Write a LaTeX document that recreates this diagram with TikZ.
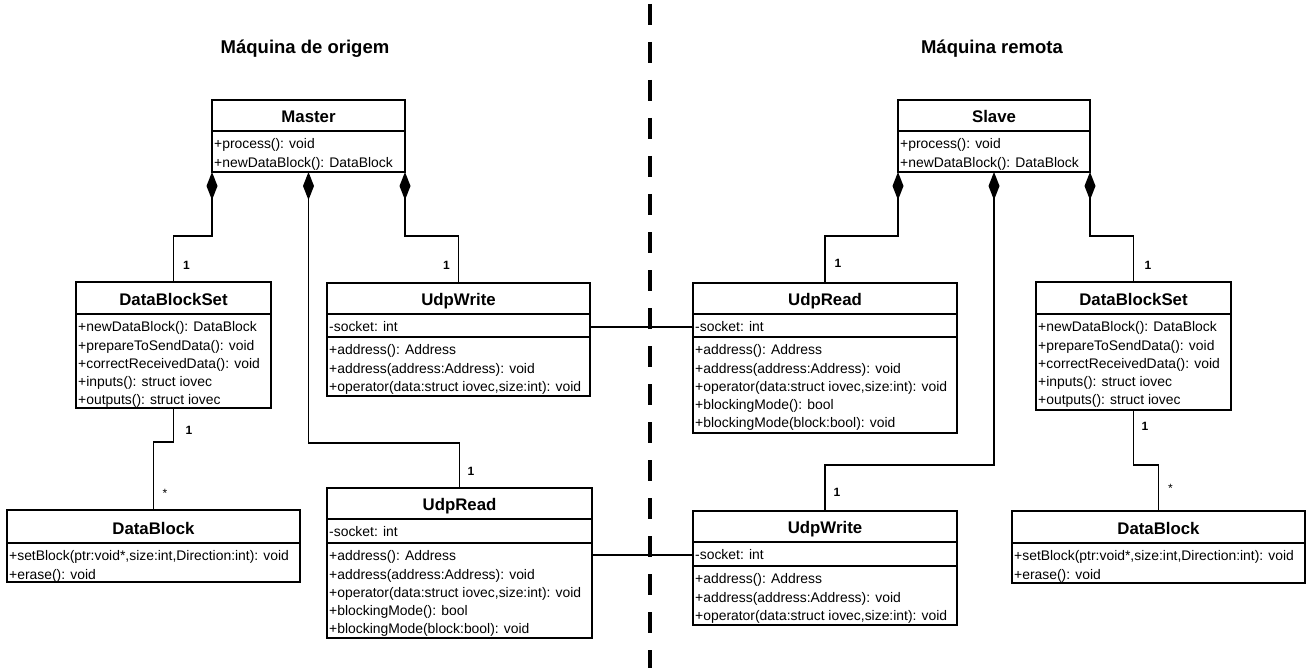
\documentclass[tikz,border=0pt]{standalone}
\usepackage{fontspec}
\setmainfont{Liberation Sans}
\usetikzlibrary{arrows.meta}

\begin{document}
\begin{tikzpicture}[x=1pt,y=1pt,yscale=-1,
  classbox/.style={draw, line width=1.7pt, inner sep=0pt, outer sep=0pt, fill=white},
  ctitle/.style={font=\fontsize{16.8}{20}\selectfont\bfseries, inner sep=0pt, anchor=base},
  cmembers/.style={font=\fontsize{13.9}{18.3}\selectfont, align=left, inner sep=0pt, anchor=north west},
  sepline/.style={line width=1.7pt},
  link/.style={line width=1.7pt},
  comp/.style={link, {Diamond[length=28pt,width=11pt]}-},
  mult/.style={font=\fontsize{12}{14}\selectfont\bfseries, inner sep=0pt},
  many/.style={font=\fontsize{12}{14}\selectfont, inner sep=0pt},
  header/.style={font=\fontsize{18.5}{22}\selectfont\bfseries, inner sep=0pt, anchor=base},
  divider/.style={line width=4pt, dash pattern=on 21pt off 17pt}]
\useasboundingbox (0,0) rectangle (1314,671);

% Text Node
\node[header] (hd-orig) at (305,54) {Máquina de origem};
% Text Node
\node[header] (hd-rem) at (992,54) {Máquina remota};

%Dashed Line: divisao
\coordinate (div-top) at (650,4);
\coordinate (div-bot) at (650,668);
\draw[divider] (div-top) -- (div-bot);

%Class: Master
\node[classbox, minimum width=193pt, minimum height=72pt] (master) at (308.5,136) {};
\node[ctitle] (master-t) at ([yshift=22.3pt]master.north) {Master};
\draw[sepline] ([yshift=31pt]master.north west) -- ([yshift=31pt]master.north east);
\node[cmembers] (master-m) at ([xshift=2pt,yshift=38.5pt]master.north west) {+process(): void\\+newDataBlock(): DataBlock};

%Class: DataBlockSet (origem)
\node[classbox, minimum width=195pt, minimum height=126pt] (dbs1) at (173.5,345) {};
\node[ctitle] (dbs1-t) at ([yshift=23.3pt]dbs1.north) {DataBlockSet};
\draw[sepline] ([yshift=32pt]dbs1.north west) -- ([yshift=32pt]dbs1.north east);
\node[cmembers] (dbs1-m) at ([xshift=2pt,yshift=39.5pt]dbs1.north west) {+newDataBlock(): DataBlock\\+prepareToSendData(): void\\+correctReceivedData(): void\\+inputs(): struct iovec\\+outputs(): struct iovec};

%Class: UdpWrite (origem)
\node[classbox, minimum width=263pt, minimum height=113pt] (udpw1) at (458.5,339.5) {};
\node[ctitle] (udpw1-t) at ([yshift=22.3pt]udpw1.north) {UdpWrite};
\draw[sepline] ([yshift=31pt]udpw1.north west) -- ([yshift=31pt]udpw1.north east);
\draw[sepline] ([yshift=54pt]udpw1.north west) -- ([yshift=54pt]udpw1.north east);
\node[cmembers] (udpw1-a) at ([xshift=2pt,yshift=38.5pt]udpw1.north west) {-socket: int};
\node[cmembers] (udpw1-m) at ([xshift=2pt,yshift=61.5pt]udpw1.north west) {+address(): Address\\+address(address:Address): void\\+operator(data:struct iovec,size:int): void};

%Class: DataBlock (origem)
\node[classbox, minimum width=293pt, minimum height=72pt] (db1) at (153.5,546) {};
\node[ctitle] (db1-t) at ([yshift=24.3pt]db1.north) {DataBlock};
\draw[sepline] ([yshift=33pt]db1.north west) -- ([yshift=33pt]db1.north east);
\node[cmembers] (db1-m) at ([xshift=2pt,yshift=40.5pt]db1.north west) {+setBlock(ptr:void*,size:int,Direction:int): void\\+erase(): void};

%Class: UdpRead (origem)
\node[classbox, minimum width=265pt, minimum height=150pt] (udpr1) at (459.5,563) {};
\node[ctitle] (udpr1-t) at ([yshift=22.3pt]udpr1.north) {UdpRead};
\draw[sepline] ([yshift=31pt]udpr1.north west) -- ([yshift=31pt]udpr1.north east);
\draw[sepline] ([yshift=55pt]udpr1.north west) -- ([yshift=55pt]udpr1.north east);
\node[cmembers] (udpr1-a) at ([xshift=2pt,yshift=38.5pt]udpr1.north west) {-socket: int};
\node[cmembers] (udpr1-m) at ([xshift=2pt,yshift=62.5pt]udpr1.north west) {+address(): Address\\+address(address:Address): void\\+operator(data:struct iovec,size:int): void\\+blockingMode(): bool\\+blockingMode(block:bool): void};

%Class: Slave
\node[classbox, minimum width=192pt, minimum height=72pt] (slave) at (994,136) {};
\node[ctitle] (slave-t) at ([yshift=22.3pt]slave.north) {Slave};
\draw[sepline] ([yshift=31pt]slave.north west) -- ([yshift=31pt]slave.north east);
\node[cmembers] (slave-m) at ([xshift=2pt,yshift=38.5pt]slave.north west) {+process(): void\\+newDataBlock(): DataBlock};

%Class: UdpRead (remota)
\node[classbox, minimum width=264pt, minimum height=150pt] (udpr2) at (825,358) {};
\node[ctitle] (udpr2-t) at ([yshift=22.3pt]udpr2.north) {UdpRead};
\draw[sepline] ([yshift=31pt]udpr2.north west) -- ([yshift=31pt]udpr2.north east);
\draw[sepline] ([yshift=54pt]udpr2.north west) -- ([yshift=54pt]udpr2.north east);
\node[cmembers] (udpr2-a) at ([xshift=2pt,yshift=38.5pt]udpr2.north west) {-socket: int};
\node[cmembers] (udpr2-m) at ([xshift=2pt,yshift=61.5pt]udpr2.north west) {+address(): Address\\+address(address:Address): void\\+operator(data:struct iovec,size:int): void\\+blockingMode(): bool\\+blockingMode(block:bool): void};

%Class: DataBlockSet (remota)
\node[classbox, minimum width=195pt, minimum height=128pt] (dbs2) at (1133.5,346) {};
\node[ctitle] (dbs2-t) at ([yshift=23.3pt]dbs2.north) {DataBlockSet};
\draw[sepline] ([yshift=32pt]dbs2.north west) -- ([yshift=32pt]dbs2.north east);
\node[cmembers] (dbs2-m) at ([xshift=2pt,yshift=39.5pt]dbs2.north west) {+newDataBlock(): DataBlock\\+prepareToSendData(): void\\+correctReceivedData(): void\\+inputs(): struct iovec\\+outputs(): struct iovec};

%Class: UdpWrite (remota)
\node[classbox, minimum width=264pt, minimum height=114pt] (udpw2) at (825,568) {};
\node[ctitle] (udpw2-t) at ([yshift=22.3pt]udpw2.north) {UdpWrite};
\draw[sepline] ([yshift=31pt]udpw2.north west) -- ([yshift=31pt]udpw2.north east);
\draw[sepline] ([yshift=55pt]udpw2.north west) -- ([yshift=55pt]udpw2.north east);
\node[cmembers] (udpw2-a) at ([xshift=2pt,yshift=38.5pt]udpw2.north west) {-socket: int};
\node[cmembers] (udpw2-m) at ([xshift=2pt,yshift=62.5pt]udpw2.north west) {+address(): Address\\+address(address:Address): void\\+operator(data:struct iovec,size:int): void};

%Class: DataBlock (remota)
\node[classbox, minimum width=293pt, minimum height=72pt] (db2) at (1158.5,547) {};
\node[ctitle] (db2-t) at ([yshift=23.3pt]db2.north) {DataBlock};
\draw[sepline] ([yshift=32pt]db2.north west) -- ([yshift=32pt]db2.north east);
\node[cmembers] (db2-m) at ([xshift=2pt,yshift=39.5pt]db2.north west) {+setBlock(ptr:void*,size:int,Direction:int): void\\+erase(): void};

%Composition Lines: Master
\draw[comp] (master.south west) -- ++(0,64) -| (dbs1.north);
\draw[comp] (master.south) -- ++(0,271) -| (udpr1.north);
\draw[comp] (master.south east) -- ++(0,64) -| (udpw1.north);
%Straight Lines
\draw[link] (dbs1.south) -- ++(0,34) -| (db1.north);

%Composition Lines: Slave
\draw[comp] (slave.south west) -- ++(0,64) -| (udpr2.north);
\draw[comp] (slave.south) -- ++(0,293) -| (udpw2.north);
\draw[comp] (slave.south east) -- ++(0,64) -| (dbs2.north);
%Straight Lines
\draw[link] (dbs2.south) -- ++(0,55) -| (db2.north);

%Straight Lines: rede
\draw[link] (udpw1.east |- udpw1-a) -- (udpr2.west |- udpw1-a);
\draw[link] (udpr1.east |- udpw2-a) -- (udpw2.west |- udpw2-a);

% Text Node
\node[mult] (m-dbs1) at ([xshift=13pt,yshift=-17pt]dbs1.north) {1};
\node[mult] (m-udpw1) at ([xshift=-12pt,yshift=-17.5pt]udpw1.north) {1};
\node[mult] (m-udpr1) at ([xshift=11.5pt,yshift=-17pt]udpr1.north) {1};
\node[mult] (m-dbs1b) at ([xshift=15.5pt,yshift=22pt]dbs1.south) {1};
\node[many] (m-db1) at ([xshift=11.5pt,yshift=-17pt]db1.north) {*};
\node[mult] (m-udpr2) at ([xshift=13pt,yshift=-19.5pt]udpr2.north) {1};
\node[mult] (m-dbs2) at ([xshift=14.5pt,yshift=-17pt]dbs2.north) {1};
\node[mult] (m-udpw2) at ([xshift=12pt,yshift=-18.5pt]udpw2.north) {1};
\node[mult] (m-dbs2b) at ([xshift=11.5pt,yshift=16pt]dbs2.south) {1};
\node[many] (m-db2) at ([xshift=12pt,yshift=-23pt]db2.north) {*};

\end{tikzpicture}
\end{document}
